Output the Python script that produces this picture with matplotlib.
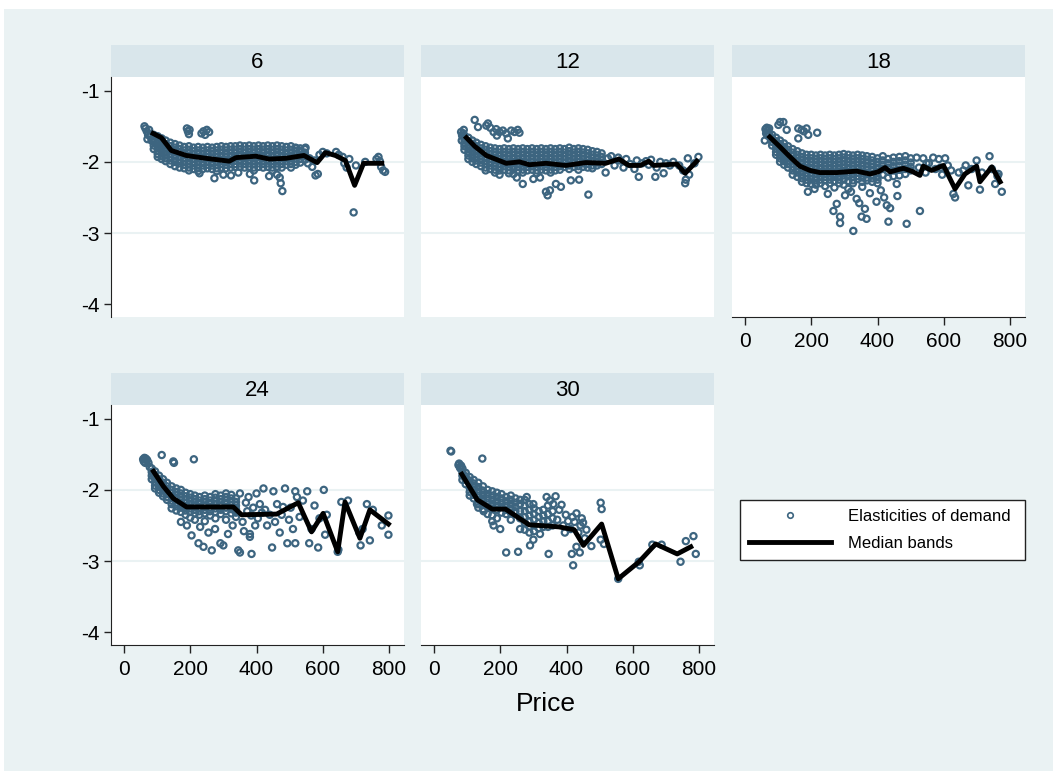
import matplotlib.pyplot as plt
from matplotlib.lines import Line2D
from matplotlib.patches import Rectangle

plt.rcParams['font.family'] = ['Liberation Sans', 'DejaVu Sans']
plt.rcParams['axes.unicode_minus'] = False

W, H = 1053, 771
BG = '#EAF2F3'
STRIP = '#D9E6EB'
DOT = '#3d6580'

panel_titles = ['6', '12', '18', '24', '30']

# ---- scattered points (price, elasticity) ----
extra_6 = [(62, -1.50), (65, -1.53), (69, -1.57), (73, -1.62), (76, -1.55), (71, -1.68), (79, -1.64), (83, -1.70),
           (190, -1.53), (193, -1.57), (196, -1.61), (198, -1.55), (234, -1.60), (240, -1.57), (250, -1.55),
           (257, -1.58), (245, -1.62), (228, -2.16), (273, -2.23), (300, -2.18), (323, -2.19), (393, -2.26),
           (438, -2.20), (462, -2.18), (473, -2.30), (478, -2.41), (470, -2.22), (345, -2.15), (380, -2.17),
           (520, -1.81), (530, -1.84), (548, -1.80), (568, -2.07), (575, -1.98), (578, -2.19), (585, -2.17),
           (590, -1.90), (600, -1.86), (612, -1.88), (640, -1.86), (648, -1.90), (660, -1.93), (665, -2.02),
           (672, -2.08), (680, -1.96), (693, -2.71), (700, -2.05), (728, -2.00), (762, -1.96), (768, -1.93),
           (772, -1.99), (776, -2.07), (782, -2.12), (788, -2.14), (560, -1.95), (555, -2.02)]
# dense core: price -> elasticities
core_6 = [(90, [-1.62, -1.67, -1.72, -1.77, -1.82]),
          (102, [-1.64, -1.69, -1.74, -1.79, -1.84, -1.89, -1.93]),
          (114, [-1.67, -1.72, -1.77, -1.82, -1.87, -1.92, -1.96]),
          (126, [-1.70, -1.75, -1.80, -1.85, -1.90, -1.95, -1.99]),
          (140, [-1.73, -1.78, -1.83, -1.88, -1.93, -1.98, -2.03]),
          (154, [-1.75, -1.80, -1.85, -1.90, -1.95, -2.00, -2.06]),
          (168, [-1.77, -1.82, -1.87, -1.92, -1.97, -2.02, -2.08]),
          (182, [-1.79, -1.84, -1.89, -1.94, -1.99, -2.04, -2.09]),
          (196, [-1.78, -1.83, -1.88, -1.93, -1.98, -2.03, -2.08, -2.12]),
          (210, [-1.80, -1.85, -1.90, -1.95, -2.00, -2.05, -2.10]),
          (224, [-1.79, -1.84, -1.89, -1.94, -1.99, -2.04, -2.09, -2.13]),
          (238, [-1.80, -1.85, -1.90, -1.95, -2.00, -2.05, -2.10]),
          (252, [-1.79, -1.84, -1.89, -1.94, -1.99, -2.04, -2.09]),
          (266, [-1.80, -1.85, -1.90, -1.95, -2.00, -2.05, -2.10]),
          (280, [-1.79, -1.84, -1.89, -1.94, -1.99, -2.04, -2.09, -2.13]),
          (294, [-1.78, -1.83, -1.88, -1.93, -1.98, -2.03, -2.08]),
          (308, [-1.79, -1.84, -1.89, -1.94, -1.99, -2.04, -2.09]),
          (322, [-1.78, -1.83, -1.88, -1.93, -1.98, -2.03, -2.08]),
          (336, [-1.78, -1.83, -1.88, -1.93, -1.98, -2.03, -2.07]),
          (350, [-1.77, -1.82, -1.87, -1.92, -1.97, -2.02, -2.07]),
          (364, [-1.78, -1.83, -1.88, -1.93, -1.98, -2.03, -2.08]),
          (378, [-1.77, -1.82, -1.87, -1.92, -1.97, -2.02, -2.07]),
          (392, [-1.78, -1.83, -1.88, -1.93, -1.98, -2.03, -2.08, -2.12]),
          (406, [-1.77, -1.82, -1.87, -1.92, -1.97, -2.02, -2.07]),
          (420, [-1.78, -1.83, -1.88, -1.93, -1.98, -2.03, -2.08]),
          (434, [-1.77, -1.82, -1.87, -1.92, -1.97, -2.02, -2.07]),
          (448, [-1.78, -1.83, -1.88, -1.93, -1.98, -2.03, -2.08, -2.12]),
          (462, [-1.77, -1.82, -1.87, -1.92, -1.97, -2.02, -2.07]),
          (476, [-1.78, -1.83, -1.88, -1.93, -1.98, -2.03, -2.08]),
          (490, [-1.79, -1.84, -1.89, -1.94, -1.99, -2.04]),
          (504, [-1.78, -1.83, -1.88, -1.93, -1.98, -2.03, -2.08]),
          (518, [-1.80, -1.85, -1.90, -1.95, -2.00, -2.04]),
          (532, [-1.81, -1.86, -1.91, -1.96, -2.01]),
          (546, [-1.82, -1.87, -1.92, -1.97])]

extra_12 = [(123, -1.41), (133, -1.51), (158, -1.49), (163, -1.46), (170, -1.52), (188, -1.54), (198, -1.58),
            (208, -1.56), (218, -1.60), (233, -1.56), (243, -1.58), (253, -1.55), (258, -1.59), (223, -1.67),
            (190, -1.63), (180, -1.58), (82, -1.58), (85, -1.63), (88, -1.60), (84, -1.70), (90, -1.55),
            (268, -2.31), (338, -2.42), (343, -2.47), (350, -2.40), (368, -2.31), (383, -2.35), (413, -2.26),
            (438, -2.25), (466, -2.46), (300, -2.24), (320, -2.22), (250, -2.22),
            (518, -2.15), (525, -1.95), (535, -1.92), (545, -2.05), (556, -1.94), (562, -1.98), (572, -2.08),
            (580, -1.96), (592, -2.03), (605, -2.10), (612, -1.98), (618, -2.21), (628, -2.02), (640, -1.99),
            (648, -2.04), (655, -1.97), (668, -2.21), (672, -2.08), (683, -2.00), (693, -2.16), (700, -2.02),
            (712, -2.05), (722, -2.00), (740, -2.05), (752, -2.12), (758, -2.30), (760, -2.25), (766, -1.95),
            (770, -2.18), (798, -1.93), (786, -2.02)]
core_12 = [(92, [-1.63, -1.68, -1.73, -1.78, -1.83]),
           (104, [-1.66, -1.71, -1.76, -1.81, -1.86, -1.91, -1.96]),
           (116, [-1.70, -1.75, -1.80, -1.85, -1.90, -1.95, -2.00]),
           (128, [-1.73, -1.78, -1.83, -1.88, -1.93, -1.98, -2.03]),
           (142, [-1.76, -1.81, -1.86, -1.91, -1.96, -2.01, -2.06]),
           (156, [-1.78, -1.83, -1.88, -1.93, -1.98, -2.03, -2.08, -2.12]),
           (170, [-1.80, -1.85, -1.90, -1.95, -2.00, -2.05, -2.10]),
           (184, [-1.81, -1.86, -1.91, -1.96, -2.01, -2.06, -2.11, -2.15]),
           (198, [-1.82, -1.87, -1.92, -1.97, -2.02, -2.07, -2.12, -2.18]),
           (212, [-1.81, -1.86, -1.91, -1.96, -2.01, -2.06, -2.11]),
           (226, [-1.82, -1.87, -1.92, -1.97, -2.02, -2.07, -2.12, -2.16]),
           (240, [-1.81, -1.86, -1.91, -1.96, -2.01, -2.06, -2.11, -2.17]),
           (254, [-1.82, -1.87, -1.92, -1.97, -2.02, -2.07, -2.12]),
           (268, [-1.81, -1.86, -1.91, -1.96, -2.01, -2.06, -2.11, -2.15]),
           (282, [-1.82, -1.87, -1.92, -1.97, -2.02, -2.07, -2.12]),
           (296, [-1.81, -1.86, -1.91, -1.96, -2.01, -2.06, -2.11]),
           (310, [-1.82, -1.87, -1.92, -1.97, -2.02, -2.07, -2.12, -2.16]),
           (324, [-1.81, -1.86, -1.91, -1.96, -2.01, -2.06, -2.11]),
           (338, [-1.82, -1.87, -1.92, -1.97, -2.02, -2.07, -2.12]),
           (352, [-1.81, -1.86, -1.91, -1.96, -2.01, -2.06, -2.11, -2.15]),
           (366, [-1.82, -1.87, -1.92, -1.97, -2.02, -2.07, -2.12]),
           (380, [-1.81, -1.86, -1.91, -1.96, -2.01, -2.06, -2.11]),
           (394, [-1.82, -1.87, -1.92, -1.97, -2.02, -2.07]),
           (408, [-1.80, -1.85, -1.90, -1.95, -2.00, -2.05, -2.10]),
           (422, [-1.82, -1.87, -1.92, -1.97, -2.02, -2.07]),
           (436, [-1.81, -1.86, -1.91, -1.96, -2.01, -2.06, -2.11]),
           (450, [-1.82, -1.87, -1.92, -1.97, -2.02, -2.07]),
           (464, [-1.83, -1.88, -1.93, -1.98, -2.03, -2.08]),
           (478, [-1.85, -1.90, -1.95, -2.00, -2.05, -2.09]),
           (492, [-1.86, -1.91, -1.96, -2.01, -2.05]),
           (506, [-1.88, -1.93, -1.98, -2.03])]

extra_18 = [(101, -1.48), (106, -1.44), (116, -1.44), (126, -1.55), (161, -1.53), (171, -1.55), (178, -1.57),
            (186, -1.53), (191, -1.62), (161, -1.67), (218, -1.59),
            (62, -1.54), (66, -1.52), (70, -1.56), (73, -1.53), (64, -1.60), (68, -1.63), (72, -1.60), (60, -1.70),
            (267, -2.69), (287, -2.77), (287, -2.86), (327, -2.97), (277, -2.59), (302, -2.47), (337, -2.52),
            (362, -2.66), (367, -2.80), (352, -2.77), (397, -2.56), (428, -2.61), (433, -2.84), (438, -2.65),
            (488, -2.87), (528, -2.69), (377, -2.44), (458, -2.31), (250, -2.45), (320, -2.42), (410, -2.40),
            (190, -2.42), (210, -2.38), (420, -2.50), (345, -2.58), (460, -2.48),
            (518, -1.94), (525, -2.08), (538, -1.95), (545, -2.15), (555, -2.02), (568, -1.94), (575, -2.10),
            (585, -1.96), (595, -2.18), (604, -1.95), (612, -2.05), (622, -2.12), (629, -2.45), (634, -2.50),
            (645, -2.15), (659, -2.12), (666, -2.05), (674, -2.33), (684, -2.10), (699, -1.98), (709, -2.39),
            (715, -2.15), (738, -1.92), (745, -2.10), (755, -2.31), (762, -2.20), (765, -2.17), (775, -2.42),
            (548, -2.02), (590, -2.08)]
core_18 = [(82, [-1.62, -1.67, -1.72, -1.77]),
           (94, [-1.66, -1.71, -1.76, -1.81, -1.86, -1.90]),
           (106, [-1.70, -1.75, -1.80, -1.85, -1.90, -1.95, -2.00]),
           (118, [-1.74, -1.79, -1.84, -1.89, -1.94, -1.99, -2.04]),
           (130, [-1.78, -1.83, -1.88, -1.93, -1.98, -2.03, -2.08]),
           (144, [-1.82, -1.87, -1.92, -1.97, -2.02, -2.07, -2.12, -2.18]),
           (158, [-1.85, -1.90, -1.95, -2.00, -2.05, -2.10, -2.15, -2.21]),
           (172, [-1.88, -1.93, -1.98, -2.03, -2.08, -2.13, -2.18, -2.23, -2.28]),
           (186, [-1.90, -1.95, -2.00, -2.05, -2.10, -2.15, -2.20, -2.25, -2.30]),
           (200, [-1.90, -1.95, -2.00, -2.05, -2.10, -2.15, -2.20, -2.25, -2.31]),
           (214, [-1.91, -1.96, -2.01, -2.06, -2.11, -2.16, -2.21, -2.26, -2.32]),
           (228, [-1.90, -1.95, -2.00, -2.05, -2.10, -2.15, -2.20, -2.25, -2.30]),
           (242, [-1.91, -1.96, -2.01, -2.06, -2.11, -2.16, -2.21, -2.26, -2.34]),
           (256, [-1.90, -1.95, -2.00, -2.05, -2.10, -2.15, -2.20, -2.25, -2.30]),
           (270, [-1.91, -1.96, -2.01, -2.06, -2.11, -2.16, -2.21, -2.27, -2.36]),
           (284, [-1.90, -1.95, -2.00, -2.05, -2.10, -2.15, -2.20, -2.25, -2.30]),
           (298, [-1.89, -1.94, -1.99, -2.04, -2.09, -2.14, -2.19, -2.25, -2.32]),
           (312, [-1.90, -1.95, -2.00, -2.05, -2.10, -2.15, -2.20, -2.27, -2.38]),
           (326, [-1.91, -1.96, -2.01, -2.06, -2.11, -2.16, -2.21, -2.26, -2.30]),
           (340, [-1.90, -1.95, -2.00, -2.05, -2.10, -2.15, -2.20, -2.24]),
           (354, [-1.91, -1.96, -2.01, -2.06, -2.11, -2.16, -2.22, -2.28, -2.35]),
           (368, [-1.92, -1.97, -2.02, -2.07, -2.12, -2.17, -2.22, -2.26]),
           (384, [-1.93, -1.98, -2.03, -2.08, -2.13, -2.18, -2.23, -2.28]),
           (400, [-1.95, -2.00, -2.05, -2.10, -2.15, -2.20, -2.25, -2.30]),
           (416, [-1.92, -1.98, -2.04, -2.10, -2.18]),
           (432, [-1.96, -2.02, -2.08, -2.14, -2.22]),
           (448, [-1.94, -2.00, -2.06, -2.12, -2.20]),
           (466, [-1.93, -1.99, -2.05, -2.11, -2.19]),
           (484, [-1.92, -1.98, -2.04, -2.10, -2.17]),
           (500, [-1.95, -2.01, -2.07, -2.12])]

extra_24 = [(58, -1.57), (62, -1.55), (66, -1.56), (70, -1.58), (74, -1.62), (78, -1.68), (64, -1.62), (60, -1.60),
            (114, -1.51), (149, -1.60), (151, -1.62), (211, -1.57),
            (350, -2.05), (358, -2.45), (362, -2.58), (368, -2.18), (372, -2.30), (376, -2.10), (380, -2.66),
            (384, -2.36), (390, -2.25), (396, -2.50), (400, -2.05), (404, -2.40), (410, -2.20), (416, -2.32),
            (421, -1.98), (426, -2.28), (432, -2.50), (440, -2.35), (447, -2.81), (451, -2.02), (456, -2.45),
            (462, -2.20), (470, -2.60), (476, -2.35), (480, -2.24), (486, -1.98), (493, -2.75), (498, -2.42),
            (503, -2.25), (510, -2.55), (517, -2.02), (517, -2.75), (522, -2.10), (530, -2.38), (540, -2.15),
            (345, -2.85), (350, -2.88), (385, -2.90), (380, -2.62), (328, -2.50), (314, -2.62), (300, -2.78),
            (291, -2.75), (265, -2.85), (240, -2.80), (225, -2.75), (204, -2.64), (255, -2.60), (275, -2.55),
            (190, -2.50), (230, -2.52),
            (553, -2.02), (559, -2.75), (566, -2.55), (575, -2.22), (586, -2.81), (590, -2.40), (603, -2.00),
            (607, -2.63), (612, -2.35), (645, -2.87), (647, -2.84), (656, -2.17), (676, -2.15), (714, -2.78),
            (742, -2.71), (733, -2.20), (751, -2.28), (778, -2.50), (798, -2.36), (798, -2.63), (710, -2.60),
            (720, -2.55)]
core_24 = [(84, [-1.70, -1.75, -1.80, -1.85]),
           (94, [-1.74, -1.79, -1.84, -1.89, -1.94, -1.98]),
           (106, [-1.80, -1.85, -1.90, -1.95, -2.00, -2.04]),
           (118, [-1.85, -1.90, -1.95, -2.00, -2.05, -2.09]),
           (130, [-1.90, -1.95, -2.00, -2.05, -2.10, -2.14]),
           (144, [-1.95, -2.00, -2.05, -2.10, -2.15, -2.20, -2.26]),
           (158, [-1.98, -2.03, -2.08, -2.13, -2.18, -2.23, -2.29]),
           (172, [-2.00, -2.05, -2.10, -2.15, -2.20, -2.25, -2.31, -2.45]),
           (186, [-2.04, -2.09, -2.14, -2.19, -2.24, -2.29, -2.35]),
           (200, [-2.06, -2.11, -2.16, -2.21, -2.26, -2.31, -2.39]),
           (214, [-2.08, -2.13, -2.18, -2.23, -2.28, -2.33, -2.42]),
           (228, [-2.10, -2.15, -2.20, -2.25, -2.30, -2.35]),
           (244, [-2.08, -2.13, -2.18, -2.23, -2.28, -2.33, -2.44]),
           (260, [-2.10, -2.15, -2.20, -2.25, -2.30, -2.36]),
           (276, [-2.06, -2.11, -2.16, -2.21, -2.26, -2.31, -2.40]),
           (292, [-2.08, -2.13, -2.18, -2.23, -2.28, -2.34]),
           (308, [-2.05, -2.10, -2.15, -2.20, -2.25, -2.30, -2.42]),
           (324, [-2.07, -2.12, -2.17, -2.22, -2.27, -2.33]),
           (338, [-2.12, -2.17, -2.22, -2.27, -2.32, -2.38])]

extra_30 = [(50, -1.45), (52, -1.46), (146, -1.56), (74, -1.65), (76, -1.63), (78, -1.68), (80, -1.70), (82, -1.66),
            (367, -2.09), (385, -2.21), (378, -2.28), (372, -2.42), (390, -2.50), (395, -2.60), (398, -2.35),
            (405, -2.44), (412, -2.55), (418, -2.38), (424, -2.45), (430, -2.33), (436, -2.60), (442, -2.50),
            (446, -2.40), (450, -2.46), (455, -2.68), (460, -2.56), (420, -3.06), (416, -2.90), (440, -2.88),
            (430, -2.80), (475, -2.79), (503, -2.18), (506, -2.27), (503, -2.70), (513, -2.76), (556, -3.25),
            (621, -3.06), (618, -3.01), (659, -2.77), (687, -2.77), (744, -3.01), (760, -2.72), (783, -2.65),
            (790, -2.90), (218, -2.88), (254, -2.87), (346, -2.90), (200, -2.55), (180, -2.50), (300, -2.70),
            (290, -2.78), (320, -2.62), (260, -2.55), (150, -2.30), (130, -2.20), (340, -2.10), (360, -2.20),
            (350, -2.15), (280, -2.10), (300, -2.20)]
core_30 = [(86, [-1.70, -1.75, -1.80, -1.86]),
           (96, [-1.76, -1.81, -1.86, -1.92]),
           (108, [-1.82, -1.87, -1.92, -1.97, -2.03, -2.08]),
           (120, [-1.86, -1.91, -1.96, -2.01, -2.07, -2.12]),
           (134, [-1.90, -1.96, -2.02, -2.08, -2.14, -2.20, -2.25]),
           (148, [-1.95, -2.01, -2.07, -2.13, -2.19, -2.27]),
           (162, [-2.00, -2.06, -2.12, -2.18, -2.24, -2.34]),
           (176, [-2.02, -2.08, -2.14, -2.20, -2.26, -2.36, -2.44]),
           (190, [-2.04, -2.10, -2.16, -2.22, -2.28, -2.40]),
           (204, [-2.06, -2.12, -2.18, -2.24, -2.32]),
           (218, [-2.10, -2.16, -2.22, -2.28, -2.34]),
           (232, [-2.08, -2.14, -2.20, -2.26, -2.32, -2.42]),
           (246, [-2.12, -2.18, -2.24, -2.30]),
           (260, [-2.14, -2.20, -2.30, -2.40]),
           (274, [-2.14, -2.22, -2.30, -2.38, -2.46, -2.56]),
           (288, [-2.20, -2.28, -2.36, -2.44, -2.52, -2.60]),
           (302, [-2.26, -2.34, -2.42, -2.50, -2.58]),
           (316, [-2.30, -2.38, -2.46, -2.54]),
           (330, [-2.28, -2.36, -2.44, -2.52]),
           (344, [-2.22, -2.34, -2.44, -2.52]),
           (358, [-2.30, -2.40, -2.50])]

# ---- median bands ----
med_x_6 = [88, 113, 143, 188, 248, 318, 338, 398, 438, 488, 543, 583, 608, 638, 668, 696, 723, 778]
med_y_6 = [-1.60, -1.66, -1.84, -1.91, -1.95, -1.99, -1.94, -1.92, -1.96, -1.95, -1.91, -2.01, -1.87, -1.91,
           -1.98, -2.33, -2.02, -2.02]
med_x_12 = [98, 123, 158, 218, 258, 288, 338, 398, 458, 518, 558, 588, 623, 648, 663, 733, 758, 793]
med_y_12 = [-1.66, -1.78, -1.91, -2.02, -2.00, -2.04, -2.02, -2.05, -2.01, -2.02, -1.96, -2.05, -2.05, -1.99,
            -2.05, -2.03, -2.16, -1.99]
med_x_18 = [75, 106, 136, 166, 196, 226, 277, 337, 377, 402, 423, 438, 478, 503, 528, 538, 563, 599, 634, 664,
            699, 709, 745, 770]
med_y_18 = [-1.65, -1.79, -1.93, -2.06, -2.12, -2.15, -2.15, -2.13, -2.17, -2.14, -2.08, -2.14, -2.09, -2.13,
            -2.19, -2.06, -2.12, -2.05, -2.38, -2.17, -2.06, -2.28, -2.07, -2.28]
med_x_24 = [89, 119, 149, 189, 330, 355, 461, 526, 566, 601, 645, 667, 712, 742, 798]
med_y_24 = [-1.74, -1.95, -2.12, -2.24, -2.24, -2.35, -2.34, -2.18, -2.59, -2.33, -2.87, -2.17, -2.68, -2.28, -2.48]
med_x_30 = [84, 131, 176, 216, 287, 377, 423, 451, 506, 556, 619, 669, 734, 775]
med_y_30 = [-1.78, -2.14, -2.27, -2.27, -2.49, -2.52, -2.56, -2.78, -2.48, -3.25, -3.01, -2.76, -2.90, -2.80]

extras = [extra_6, extra_12, extra_18, extra_24, extra_30]
cores = [core_6, core_12, core_18, core_24, core_30]
med_x = [med_x_6, med_x_12, med_x_18, med_x_24, med_x_30]
med_y = [med_y_6, med_y_12, med_y_18, med_y_24, med_y_30]


def rect(x0, y0, x1, y1):
    return [x0 / W, 1 - y1 / H, (x1 - x0) / W, (y1 - y0) / H]


fig = plt.figure(figsize=(W / 100, H / 100), dpi=100, facecolor='white')
fig.patches.append(Rectangle((4 / W, 0), 1 - 4 / W, 1 - 9 / H, transform=fig.transFigure,
                             facecolor=BG, edgecolor='none', zorder=-10))

col_left = [111, 421, 732]
pw = 293
rows = [(45, 77, 317), (373, 405, 645)]

for i, title in enumerate(panel_titles):
    r, c = divmod(i, 3)
    x0 = col_left[c]
    s_top, p_top, p_bot = rows[r]

    strip = fig.add_axes(rect(x0, s_top, x0 + pw, p_top))
    strip.set_facecolor(STRIP)
    strip.set_xticks([])
    strip.set_yticks([])
    for sp in strip.spines.values():
        sp.set_visible(False)
    strip.text(0.5, 0.45, title, ha='center', va='center', fontsize=16, transform=strip.transAxes)

    ax = fig.add_axes(rect(x0, p_top, x0 + pw, p_bot))
    ax.set_facecolor('white')
    xs, ys = [], []
    for px, py in extras[i]:
        xs.append(px)
        ys.append(py)
    for px, col in cores[i]:
        for py in col:
            xs.append(px)
            ys.append(py)
    ax.scatter(xs, ys, s=20, facecolors='none', edgecolors=DOT, linewidths=1.6, zorder=3)
    ax.plot(med_x[i], med_y[i], color='black', lw=3.5, zorder=4)

    for g in [-2, -3]:
        ax.axhline(g, color=BG, lw=1.5, zorder=1)

    ax.set_xlim(-39, 845)
    ax.set_ylim(-4.18, -0.807)
    ax.set_xticks([0, 200, 400, 600, 800])
    ax.set_yticks([-1, -2, -3, -4])
    for sp in ['top', 'right']:
        ax.spines[sp].set_visible(False)

    show_y = (c == 0)
    show_x = (r == 1) or (i == 2)
    ax.spines['left'].set_visible(show_y)
    ax.spines['bottom'].set_visible(show_x)
    ax.spines['left'].set_color('#222222')
    ax.spines['bottom'].set_color('#222222')
    ax.tick_params(axis='y', left=show_y, labelleft=show_y, length=5, width=1, pad=3.5,
                   labelsize=15, color='#222222')
    ax.tick_params(axis='x', bottom=show_x, labelbottom=show_x, length=6, width=1, pad=5,
                   labelsize=15, color='#222222')

fig.text(546 / W, 1 - 704 / H, 'Price', ha='center', va='center', fontsize=19)

handles = [Line2D([], [], marker='o', ls='none', mfc='none', mec=DOT, ms=4, mew=1.2),
           Line2D([], [], color='black', lw=3.5)]
leg = fig.legend(handles, ['Elasticities of demand', 'Median bands'],
                 bbox_to_anchor=(740 / W, 1 - 565 / H, 285 / W, 70 / H), loc='center',
                 mode='expand', borderaxespad=0, fontsize=12, handlelength=4.9, handletextpad=1.0,
                 labelspacing=0.75, borderpad=0.55, frameon=True, fancybox=False)
leg.get_frame().set_edgecolor('#222222')
leg.get_frame().set_linewidth(1)
leg.get_frame().set_facecolor('white')
leg.get_frame().set_alpha(1)

fig.savefig('out.png', dpi=100, facecolor=fig.get_facecolor())
